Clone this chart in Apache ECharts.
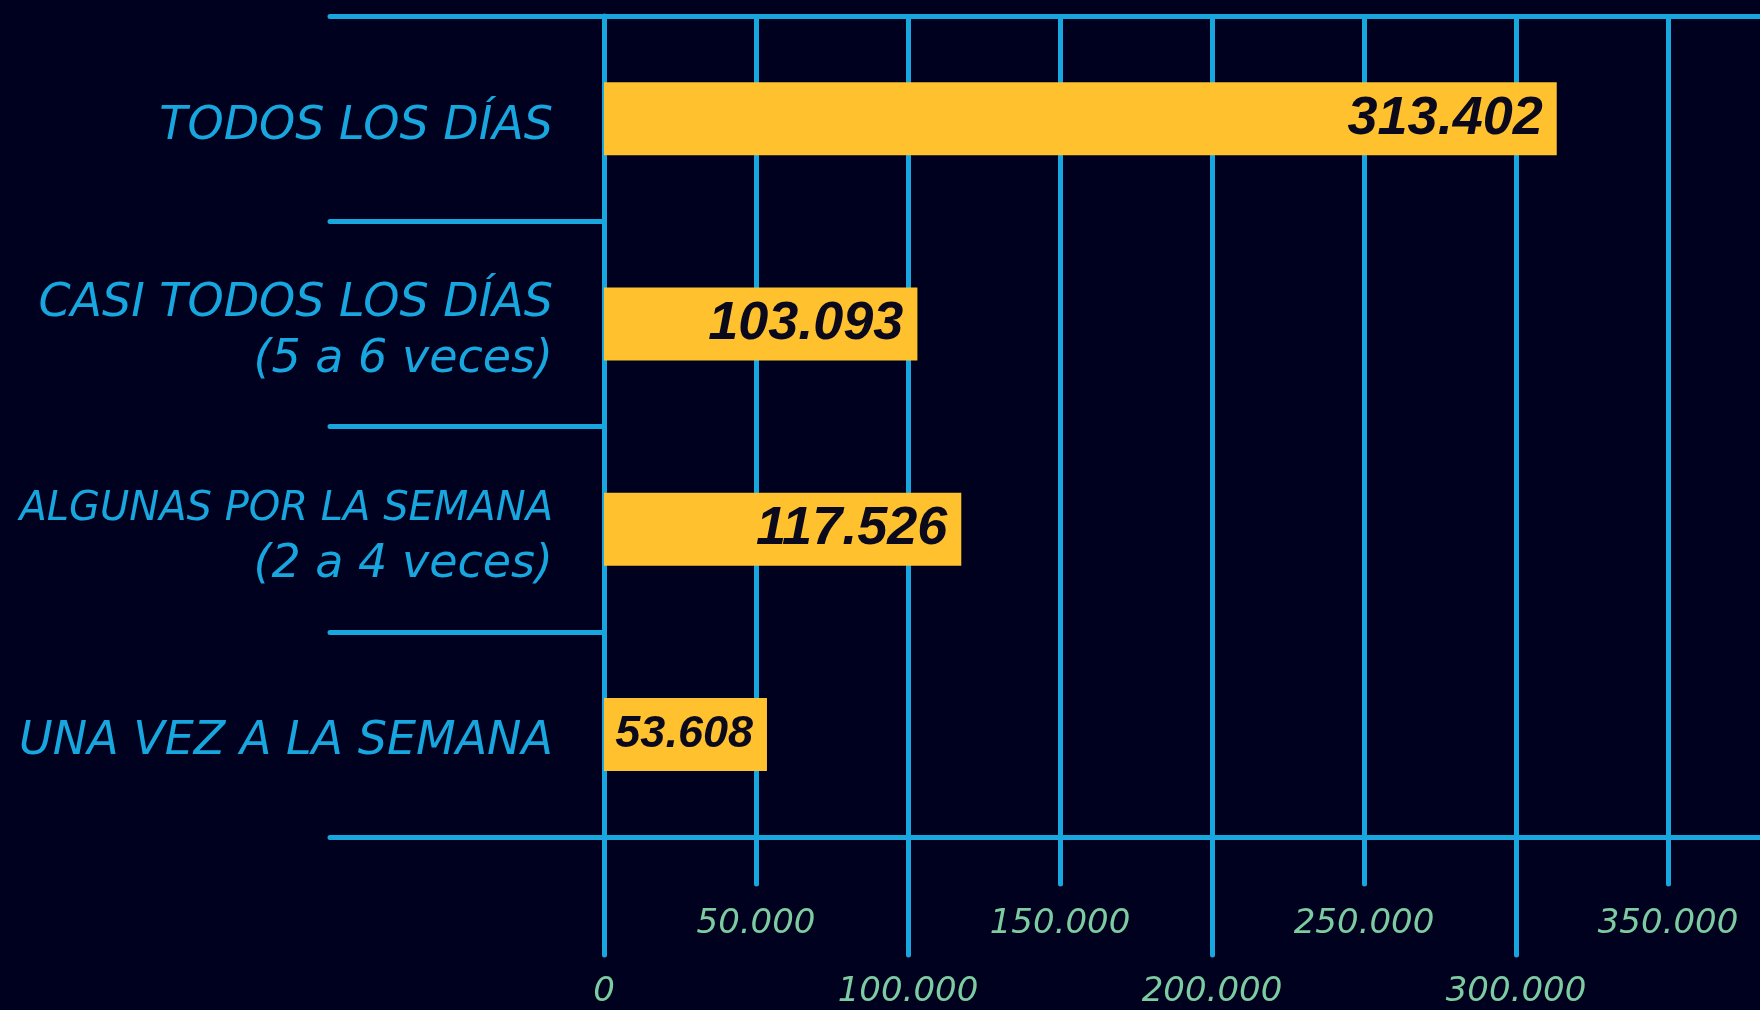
<!DOCTYPE html>
<html lang="es">
  <head>
    <meta charset="UTF-8" />
    <title>Frecuencia</title>
    <script src="https://cdn.jsdelivr.net/npm/echarts@6/dist/echarts.min.js"></script>
    <style>
      html, body { margin: 0; padding: 0; background: #00001f; }
      #main { width: 1760px; height: 1010px; }
    </style>
  </head>
  <body>
    <div id="main"></div>
    <script>
      var categories = [
        "TODOS LOS DÍAS",
        "CASI TODOS LOS DÍAS\n(5 a 6 veces)",
        "ALGUNAS POR LA SEMANA\n(2 a 4 veces)",
        "UNA VEZ A LA SEMANA",
      ];
      var values = [313402, 103093, 117526, 53608];
      var tickStep = 50000;
      var axisMin = 0;
      var axisMax = 400000;

      var blue = "#18a6de";
      var mint = "#7ccba1";
      var barFont = "'Liberation Sans', Arial, sans-serif";

      function fmt(v) {
        return String(v).replace(/\B(?=(\d{3})+(?!\d))/g, ".");
      }

      var chartDom = document.getElementById("main");
      var myChart = echarts.init(chartDom);
      var option;
      option = {
        backgroundColor: "#00001f",
        animation: false,
        grid: {
          left: 604,
          right: -60,
          top: 16,
          bottom: 173,
          containLabel: false,
          outerBoundsMode: "none",
        },
        xAxis: [
          {
            type: "value",
            position: "bottom",
            min: axisMin,
            max: axisMax,
            interval: tickStep,
            axisLine: { show: true, lineStyle: { color: blue, width: 5 } },
            axisTick: {
              show: true,
              length: 47,
              lineStyle: { color: blue, width: 5, cap: "round" },
            },
            splitLine: { show: true, lineStyle: { color: blue, width: 5 } },
            axisLabel: {
              margin: 70,
              color: mint,
              fontSize: 34,
              lineHeight: 34,
              fontStyle: "italic",
              fontFamily: "DejaVu Sans",
              formatter: function (v) {
                return v % (tickStep * 2) === 0 ? "" : fmt(v);
              },
            },
          },
          {
            type: "value",
            position: "bottom",
            min: axisMin,
            max: axisMax,
            interval: tickStep * 2,
            axisLine: { show: false },
            axisTick: {
              show: true,
              length: 118,
              lineStyle: { color: blue, width: 5, cap: "round" },
            },
            splitLine: { show: false },
            axisLabel: {
              margin: 138,
              color: mint,
              fontSize: 34,
              lineHeight: 34,
              fontStyle: "italic",
              fontFamily: "DejaVu Sans",
              formatter: function (v) {
                return v >= axisMax ? "" : fmt(v);
              },
            },
          },
          {
            type: "value",
            position: "top",
            min: axisMin,
            max: axisMax,
            axisLine: { show: true, lineStyle: { color: blue, width: 5 } },
            axisTick: { show: false },
            splitLine: { show: false },
            axisLabel: { show: false },
          },
        ],
        yAxis: {
          type: "category",
          inverse: true,
          data: categories,
          axisLine: { show: true, lineStyle: { color: blue, width: 5 } },
          axisTick: {
            show: true,
            length: 274,
            lineStyle: { color: blue, width: 5, cap: "round" },
          },
          axisLabel: {
            margin: 51,
            padding: [16, 0, 0, 0],
            color: blue,
            fontStyle: "italic",
            fontFamily: "DejaVu Sans",
            formatter: function (v) {
              return v
                .split("\n")
                .map(function (l) {
                  return "{" + (l.length > 20 ? "s" : "a") + "|" + l + "}";
                })
                .join("\n");
            },
            rich: {
              a: {
                color: blue,
                fontSize: 46,
                lineHeight: 56,
                fontStyle: "italic",
                fontFamily: "DejaVu Sans",
              },
              s: {
                color: blue,
                fontSize: 40,
                lineHeight: 56,
                fontStyle: "italic",
                fontFamily: "DejaVu Sans",
              },
            },
          },
        },
        series: [
          {
            type: "bar",
            xAxisIndex: 0,
            data: values,
            barWidth: 73,
            itemStyle: { color: "#ffc22e" },
            label: {
              show: true,
              position: "insideRight",
              distance: 14,
              color: "#0a0a1c",
              fontSize: 54,
              fontWeight: "bold",
              fontStyle: "italic",
              fontFamily: barFont,
              formatter: function (p) {
                return p.value < 60000 ? "{s|" + fmt(p.value) + "}" : fmt(p.value);
              },
              rich: {
                s: {
                  color: "#0a0a1c",
                  fontSize: 45,
                  fontWeight: "bold",
                  fontStyle: "italic",
                  fontFamily: barFont,
                },
              },
            },
          },
        ],
      };
      option && myChart.setOption(option);
    </script>
  </body>
</html>
